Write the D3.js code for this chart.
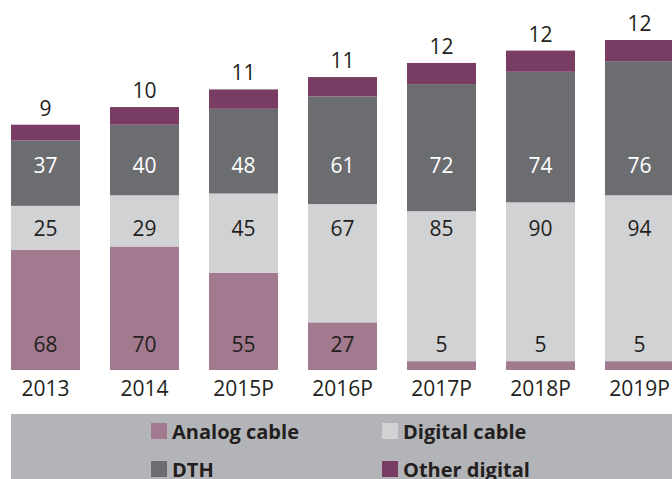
<!DOCTYPE html>
<html>
<head>
<meta charset="utf-8">
<script src="https://cdn.jsdelivr.net/npm/d3@7"></script>
<style>
    html, body { margin: 0; padding: 0; background: #fff; }
    svg { display: block; font-family: "Open Sans", sans-serif; }
</style>
</head>
<body>
<div id="chart"></div>
<script>

var years = ["2013", "2014", "2015P", "2016P", "2017P", "2018P", "2019P"];
var series = ["Analog cable", "Digital cable", "DTH", "Other digital"];
var analog = [68, 70, 55, 27, 5, 5, 5];
var digital = [25, 29, 45, 67, 85, 90, 94];
var dth = [37, 40, 48, 61, 72, 74, 76];
var other = [9, 10, 11, 11, 12, 12, 12];

var colors = ["#a27a8f", "#d1d2d4", "#6c6d71", "#793d63"];
// fixed label rows (baseline) for the segments inside the bars
var label_rows = [352, 236, 173];
var label_colors = ["#231f20", "#231f20", "#ffffff"];

window.onload = function() {

    var width = 672,
        height = 479;

    var svg = d3.select("#chart").append("svg")
        .attr("width", width)
        .attr("height", height);

    var rows = years.map(function(y, i) {
        return {year: y, "Analog cable": analog[i], "Digital cable": digital[i],
            "DTH": dth[i], "Other digital": other[i]};
    });

    var stack = d3.stack().keys(series)(rows);

    var x = d3.scaleBand()
        .domain(years)
        .range([11, 674])
        .paddingInner(0.303)
        .paddingOuter(0);

    var y = d3.scaleLinear()
        .domain([0, 187])
        .range([370, 40]);

    var color = d3.scaleOrdinal()
        .domain(series)
        .range(colors);

    var layer = svg.append("g")
        .selectAll("g")
        .data(stack)
        .enter().append("g")
        .attr("fill", function(d) { return color(d.key); });

    layer.selectAll("rect")
        .data(function(d) { return d; })
        .enter().append("rect")
        .attr("x", function(d) { return x(d.data.year); })
        .attr("width", x.bandwidth())
        .attr("y", function(d) { return y(d[1]); })
        .attr("height", function(d) { return y(d[0]) - y(d[1]); });

    // labels inside bars
    stack.slice(0, 3).forEach(function(s, k) {
        svg.append("g")
            .selectAll("text")
            .data(s)
            .enter().append("text")
            .attr("x", function(d) { return x(d.data.year) + x.bandwidth() / 2; })
            .attr("y", label_rows[k])
            .attr("text-anchor", "middle")
            .attr("font-size", 21)
            .attr("fill", label_colors[k])
            .text(function(d) { return d[1] - d[0]; });
    });

    // other digital labels above the bars
    svg.append("g")
        .selectAll("text")
        .data(stack[3])
        .enter().append("text")
        .attr("x", function(d) { return x(d.data.year) + x.bandwidth() / 2; })
        .attr("y", function(d) { return y(d[1]) - 9; })
        .attr("text-anchor", "middle")
        .attr("font-size", 21)
        .attr("fill", "#231f20")
        .text(function(d) { return d[1] - d[0]; });

    // year axis
    var axis = svg.append("g")
        .attr("transform", "translate(0,396)")
        .call(d3.axisBottom(x).tickSize(0).tickPadding(0));
    axis.select(".domain").remove();
    axis.selectAll("text")
        .attr("dy", 0)
        .attr("y", 0)
        .attr("font-size", 21)
        .attr("font-family", "Open Sans, sans-serif")
        .attr("fill", "#231f20");

    // legend
    svg.append("rect")
        .attr("x", 11)
        .attr("y", 414)
        .attr("width", width - 11)
        .attr("height", height - 414)
        .attr("fill", "#b3b4b7");

    var legend_x = [151, 382],
        legend_y = [423, 461];

    var item = svg.append("g")
        .selectAll("g")
        .data(series)
        .enter().append("g")
        .attr("transform", function(d, i) {
            return "translate(" + legend_x[i % 2] + "," + legend_y[Math.floor(i / 2)] + ")";
        });

    item.append("rect")
        .attr("width", 16)
        .attr("height", 16)
        .attr("fill", function(d) { return color(d); });

    item.append("text")
        .attr("x", 21)
        .attr("y", 16)
        .attr("font-size", 20)
        .attr("font-weight", "bold")
        .attr("fill", "#231f20")
        .text(function(d) { return d; });
};
</script>
</body>
</html>
